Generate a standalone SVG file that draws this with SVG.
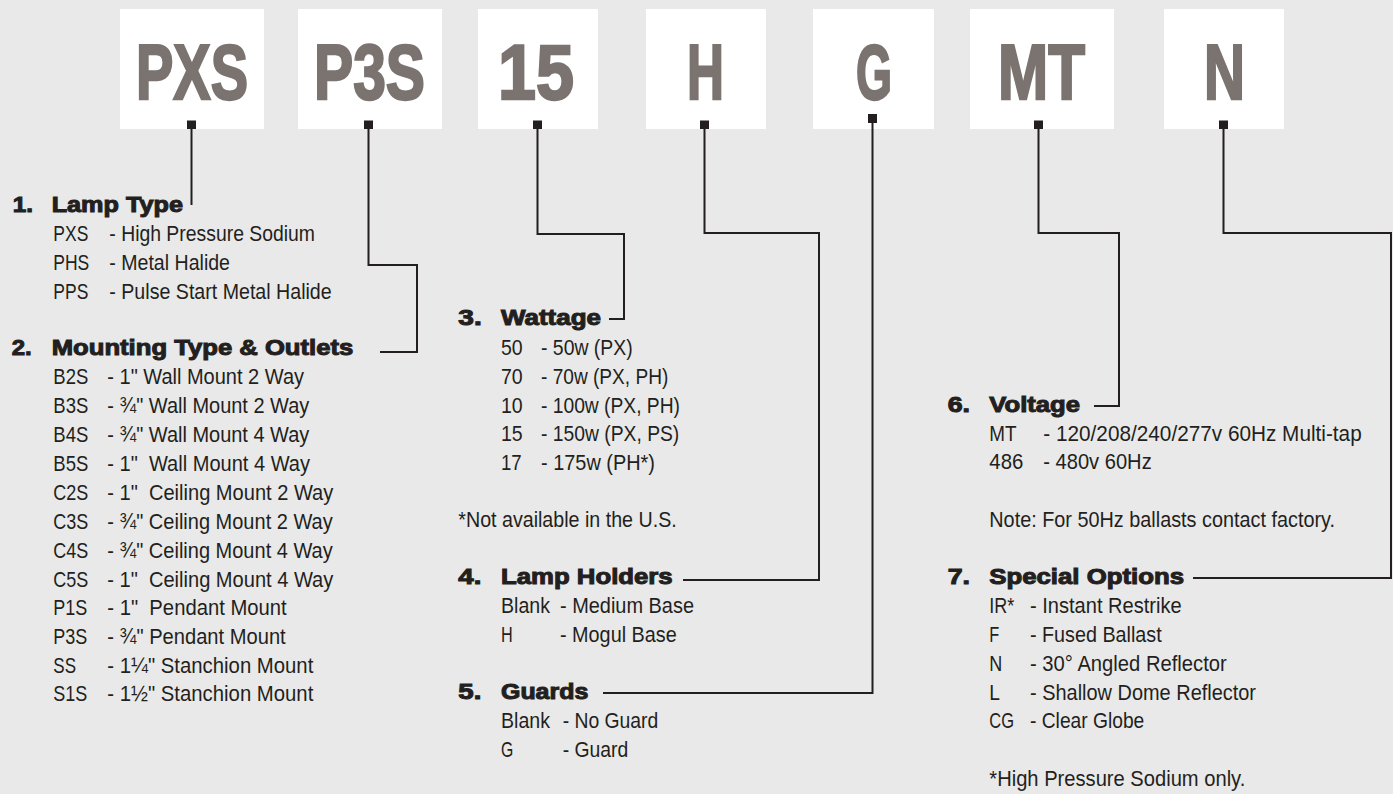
<svg xmlns="http://www.w3.org/2000/svg" width="1393" height="794" viewBox="0 0 1393 794">
<style>
.box{fill:#ffffff}
.code{font-family:"Liberation Sans",Arial,sans-serif;font-weight:bold;font-size:78px;fill:#7a7370;stroke:#7a7370;stroke-width:2.4;text-anchor:middle}
.pin{fill:#231f20}
.conn{fill:none;stroke:#231f20;stroke-width:2}
.h{font-family:"Liberation Sans",Arial,sans-serif;font-weight:bold;font-size:21.5px;fill:#231f20;stroke:#231f20;stroke-width:1}
.t{font-family:"Liberation Sans",Arial,sans-serif;font-size:22.5px;fill:#231f20;white-space:pre}
</style>
<rect x="0" y="0" width="1393" height="794" fill="#e9e9e9"/>

<g id="box-pxs"><rect class="box" x="120" y="9" width="144" height="120"/><text class="code" x="192" y="99" textLength="112" lengthAdjust="spacingAndGlyphs">PXS</text><rect class="pin" x="187" y="120.5" width="9" height="8.5"/></g>
<g id="box-p3s"><rect class="box" x="298" y="9" width="144" height="120"/><text class="code" x="369.5" y="99" textLength="111" lengthAdjust="spacingAndGlyphs">P3S</text><rect class="pin" x="364" y="120.5" width="9" height="8.5"/></g>
<g id="box-15"><rect class="box" x="478" y="9" width="120" height="120"/><text class="code" x="536" y="99" textLength="76" lengthAdjust="spacingAndGlyphs">15</text><rect class="pin" x="533" y="120.5" width="9" height="8.5"/></g>
<g id="box-h"><rect class="box" x="646" y="9" width="120" height="120"/><text class="code" x="705.5" y="99" textLength="37" lengthAdjust="spacingAndGlyphs">H</text><rect class="pin" x="700" y="120.5" width="9" height="8.5"/></g>
<g id="box-g"><rect class="box" x="813" y="9" width="121" height="120"/><text class="code" x="874" y="99" textLength="36" lengthAdjust="spacingAndGlyphs">G</text><rect class="pin" x="868" y="114" width="9" height="9"/></g>
<g id="box-mt"><rect class="box" x="970" y="9" width="144" height="120"/><text class="code" x="1041.5" y="99" textLength="87" lengthAdjust="spacingAndGlyphs">MT</text><rect class="pin" x="1034" y="120.5" width="9" height="8.5"/></g>
<g id="box-n"><rect class="box" x="1164" y="9" width="120" height="120"/><text class="code" x="1224.5" y="99" textLength="41" lengthAdjust="spacingAndGlyphs">N</text><rect class="pin" x="1219" y="120.5" width="9" height="8.5"/></g>

<g id="connectors">
<path class="conn" d="M191.5,129 V205"/>
<path class="conn" d="M368.5,129 V265 H417 V352 H380"/>
<path class="conn" d="M537.5,129 V234 H624 V319 H609"/>
<path class="conn" d="M704.5,129 V233 H819 V580 H683"/>
<path class="conn" d="M872.5,123 V693 H603"/>
<path class="conn" d="M1038.5,129 V233 H1119 V406 H1094"/>
<path class="conn" d="M1223.5,129 V233 H1391 V578 H1193"/>
</g>

<g id="sec-lamp-type">
<text class="h" x="12.7" y="211.7" textLength="20.3" lengthAdjust="spacingAndGlyphs">1.</text>
<text class="h" x="51.7" y="211.7" textLength="131.3" lengthAdjust="spacingAndGlyphs">Lamp Type</text>
<text class="t" x="53.3" y="241" textLength="35" lengthAdjust="spacingAndGlyphs">PXS</text><text class="t" x="109.3" y="241" textLength="205.7" lengthAdjust="spacingAndGlyphs">- High Pressure Sodium</text>
<text class="t" x="53.3" y="270" textLength="36" lengthAdjust="spacingAndGlyphs">PHS</text><text class="t" x="109.3" y="270" textLength="120.7" lengthAdjust="spacingAndGlyphs">- Metal Halide</text>
<text class="t" x="53.3" y="298.7" textLength="35" lengthAdjust="spacingAndGlyphs">PPS</text><text class="t" x="109.3" y="298.7" textLength="222.4" lengthAdjust="spacingAndGlyphs">- Pulse Start Metal Halide</text>
</g>

<g id="sec-mounting">
<text class="h" x="11.7" y="355" textLength="20" lengthAdjust="spacingAndGlyphs">2.</text>
<text class="h" x="51.7" y="355" textLength="301.6" lengthAdjust="spacingAndGlyphs">Mounting Type &amp; Outlets</text>
<text class="t" x="53.3" y="384" textLength="35" lengthAdjust="spacingAndGlyphs">B2S</text><text class="t" x="107.3" y="384" textLength="196.7" lengthAdjust="spacingAndGlyphs">- 1" Wall Mount 2 Way</text>
<text class="t" x="53.3" y="413" textLength="35" lengthAdjust="spacingAndGlyphs">B3S</text><text class="t" x="107.3" y="413" textLength="202" lengthAdjust="spacingAndGlyphs">- ¾" Wall Mount 2 Way</text>
<text class="t" x="53.3" y="441.7" textLength="35" lengthAdjust="spacingAndGlyphs">B4S</text><text class="t" x="107.3" y="441.7" textLength="202" lengthAdjust="spacingAndGlyphs">- ¾" Wall Mount 4 Way</text>
<text class="t" x="53.3" y="470.7" textLength="35" lengthAdjust="spacingAndGlyphs">B5S</text><text class="t" x="107.3" y="470.7" textLength="202.7" lengthAdjust="spacingAndGlyphs">- 1"  Wall Mount 4 Way</text>
<text class="t" x="53.3" y="500" textLength="35" lengthAdjust="spacingAndGlyphs">C2S</text><text class="t" x="107.3" y="500" textLength="226" lengthAdjust="spacingAndGlyphs">- 1"  Ceiling Mount 2 Way</text>
<text class="t" x="53.3" y="529" textLength="35" lengthAdjust="spacingAndGlyphs">C3S</text><text class="t" x="107.3" y="529" textLength="225.4" lengthAdjust="spacingAndGlyphs">- ¾" Ceiling Mount 2 Way</text>
<text class="t" x="53.3" y="557.7" textLength="35" lengthAdjust="spacingAndGlyphs">C4S</text><text class="t" x="107.3" y="557.7" textLength="225.4" lengthAdjust="spacingAndGlyphs">- ¾" Ceiling Mount 4 Way</text>
<text class="t" x="53.3" y="586.7" textLength="35" lengthAdjust="spacingAndGlyphs">C5S</text><text class="t" x="107.3" y="586.7" textLength="226" lengthAdjust="spacingAndGlyphs">- 1"  Ceiling Mount 4 Way</text>
<text class="t" x="53.3" y="615" textLength="34" lengthAdjust="spacingAndGlyphs">P1S</text><text class="t" x="107.3" y="615" textLength="179.4" lengthAdjust="spacingAndGlyphs">- 1"  Pendant Mount</text>
<text class="t" x="53.3" y="644" textLength="34" lengthAdjust="spacingAndGlyphs">P3S</text><text class="t" x="107.3" y="644" textLength="178.4" lengthAdjust="spacingAndGlyphs">- ¾" Pendant Mount</text>
<text class="t" x="53.3" y="672.7" textLength="22.7" lengthAdjust="spacingAndGlyphs">SS</text><text class="t" x="107.3" y="672.7" textLength="206" lengthAdjust="spacingAndGlyphs">- 1¼" Stanchion Mount</text>
<text class="t" x="53.3" y="701" textLength="34" lengthAdjust="spacingAndGlyphs">S1S</text><text class="t" x="107.3" y="701" textLength="206" lengthAdjust="spacingAndGlyphs">- 1½" Stanchion Mount</text>
</g>

<g id="sec-wattage">
<text class="h" x="458.3" y="325" textLength="23.4" lengthAdjust="spacingAndGlyphs">3.</text>
<text class="h" x="501" y="325" textLength="100" lengthAdjust="spacingAndGlyphs">Wattage</text>
<text class="t" x="501" y="355" textLength="21.7" lengthAdjust="spacingAndGlyphs">50</text><text class="t" x="541" y="355" textLength="91.7" lengthAdjust="spacingAndGlyphs">- 50w (PX)</text>
<text class="t" x="501" y="384" textLength="21.7" lengthAdjust="spacingAndGlyphs">70</text><text class="t" x="541" y="384" textLength="127.3" lengthAdjust="spacingAndGlyphs">- 70w (PX, PH)</text>
<text class="t" x="501" y="412.7" textLength="21.7" lengthAdjust="spacingAndGlyphs">10</text><text class="t" x="541" y="412.7" textLength="139" lengthAdjust="spacingAndGlyphs">- 100w (PX, PH)</text>
<text class="t" x="501" y="441" textLength="21.7" lengthAdjust="spacingAndGlyphs">15</text><text class="t" x="541" y="441" textLength="138.3" lengthAdjust="spacingAndGlyphs">- 150w (PX, PS)</text>
<text class="t" x="501" y="470" textLength="20.7" lengthAdjust="spacingAndGlyphs">17</text><text class="t" x="541" y="470" textLength="114" lengthAdjust="spacingAndGlyphs">- 175w (PH*)</text>
<text class="t" x="458.3" y="527.3" textLength="218.4" lengthAdjust="spacingAndGlyphs">*Not available in the U.S.</text>
</g>

<g id="sec-lamp-holders">
<text class="h" x="458.3" y="584.3" textLength="23" lengthAdjust="spacingAndGlyphs">4.</text>
<text class="h" x="501" y="584.3" textLength="171.7" lengthAdjust="spacingAndGlyphs">Lamp Holders</text>
<text class="t" x="501" y="613.3" textLength="49" lengthAdjust="spacingAndGlyphs">Blank</text><text class="t" x="560" y="613.3" textLength="134" lengthAdjust="spacingAndGlyphs">- Medium Base</text>
<text class="t" x="501" y="642.3" textLength="11.7" lengthAdjust="spacingAndGlyphs">H</text><text class="t" x="560" y="642.3" textLength="116.7" lengthAdjust="spacingAndGlyphs">- Mogul Base</text>
</g>

<g id="sec-guards">
<text class="h" x="458.3" y="699.3" textLength="23" lengthAdjust="spacingAndGlyphs">5.</text>
<text class="h" x="501" y="699.3" textLength="87.3" lengthAdjust="spacingAndGlyphs">Guards</text>
<text class="t" x="501" y="728.3" textLength="49" lengthAdjust="spacingAndGlyphs">Blank</text><text class="t" x="562.7" y="728.3" textLength="95.6" lengthAdjust="spacingAndGlyphs">- No Guard</text>
<text class="t" x="501" y="757.3" textLength="12.3" lengthAdjust="spacingAndGlyphs">G</text><text class="t" x="562.7" y="757.3" textLength="65.6" lengthAdjust="spacingAndGlyphs">- Guard</text>
</g>

<g id="sec-voltage">
<text class="h" x="947.7" y="411.7" textLength="22.3" lengthAdjust="spacingAndGlyphs">6.</text>
<text class="h" x="989.3" y="411.7" textLength="90.7" lengthAdjust="spacingAndGlyphs">Voltage</text>
<text class="t" x="989.3" y="441" textLength="27.3" lengthAdjust="spacingAndGlyphs">MT</text><text class="t" x="1043.3" y="441" textLength="318.4" lengthAdjust="spacingAndGlyphs">- 120/208/240/277v 60Hz Multi-tap</text>
<text class="t" x="989.3" y="469.3" textLength="34" lengthAdjust="spacingAndGlyphs">486</text><text class="t" x="1043.3" y="469.3" textLength="108.4" lengthAdjust="spacingAndGlyphs">- 480v 60Hz</text>
<text class="t" x="989.3" y="526.7" textLength="345.7" lengthAdjust="spacingAndGlyphs">Note: For 50Hz ballasts contact factory.</text>
</g>

<g id="sec-special-options">
<text class="h" x="947.7" y="584" textLength="22.3" lengthAdjust="spacingAndGlyphs">7.</text>
<text class="h" x="989.3" y="584" textLength="194.7" lengthAdjust="spacingAndGlyphs">Special Options</text>
<text class="t" x="989.3" y="613.3" textLength="25" lengthAdjust="spacingAndGlyphs">IR*</text><text class="t" x="1030" y="613.3" textLength="151.7" lengthAdjust="spacingAndGlyphs">- Instant Restrike</text>
<text class="t" x="989.3" y="642.3" textLength="10" lengthAdjust="spacingAndGlyphs">F</text><text class="t" x="1030" y="642.3" textLength="131.7" lengthAdjust="spacingAndGlyphs">- Fused Ballast</text>
<text class="t" x="989.3" y="670.7" textLength="13" lengthAdjust="spacingAndGlyphs">N</text><text class="t" x="1030" y="670.7" textLength="196.7" lengthAdjust="spacingAndGlyphs">- 30° Angled Reflector</text>
<text class="t" x="989.3" y="700" textLength="10.7" lengthAdjust="spacingAndGlyphs">L</text><text class="t" x="1030" y="700" textLength="226" lengthAdjust="spacingAndGlyphs">- Shallow Dome Reflector</text>
<text class="t" x="989.3" y="728.3" textLength="24.7" lengthAdjust="spacingAndGlyphs">CG</text><text class="t" x="1030" y="728.3" textLength="114.3" lengthAdjust="spacingAndGlyphs">- Clear Globe</text>
<text class="t" x="989.3" y="786" textLength="256" lengthAdjust="spacingAndGlyphs">*High Pressure Sodium only.</text>
</g>
</svg>
